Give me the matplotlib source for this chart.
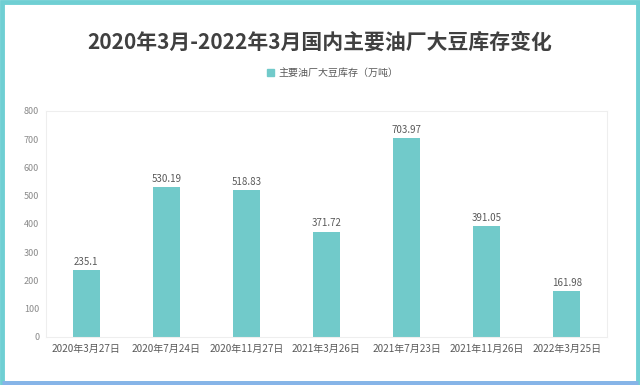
import matplotlib.pyplot as plt
from matplotlib.patches import Rectangle, Patch

plt.rcParams['font.family'] = ['Noto Sans CJK SC', 'DejaVu Sans']

dates = ['2020年3月27日', '2020年7月24日', '2020年11月27日', '2021年3月26日',
         '2021年7月23日', '2021年11月26日', '2022年3月25日']
stock = [235.1, 530.19, 518.83, 371.72, 703.97, 391.05, 161.98]
labels = ['235.1', '530.19', '518.83', '371.72', '703.97', '391.05', '161.98']
yticks = [0, 100, 200, 300, 400, 500, 600, 700, 800]

bar_color = '#71CACA'
text_grey = '#595959'

fig = plt.figure(figsize=(6.4, 3.85), dpi=100)

# outer frame
fig.patches.append(Rectangle((0.003, 0.005), 0.994, 0.99, transform=fig.transFigure,
                             fill=False, edgecolor='#6FCFD3', linewidth=3.5))
fig.patches.append(Rectangle((0.003, 0.005), 0.994, 0.0, transform=fig.transFigure,
                             fill=False, edgecolor='#86B4E8', linewidth=3.5))

ax = fig.add_axes([0.072, 0.125, 0.876, 0.587])
x = range(len(dates))
ax.bar(x, stock, width=0.34, color=bar_color, zorder=2)
for i, (v, s) in enumerate(zip(stock, labels)):
    ax.text(i, v + 12, s, ha='center', va='bottom', fontsize=7, color=text_grey)

ax.set_xlim(-0.5, len(dates) - 0.5)
ax.set_ylim(0, 800)
ax.set_yticks(yticks)
ax.set_yticklabels([str(t) for t in yticks], fontsize=6.5, color='#8a8a8a')
ax.set_xticks(list(x))
ax.set_xticklabels(dates, fontsize=7.2, color=text_grey)
ax.tick_params(length=0, pad=5)
for sp in ax.spines.values():
    sp.set_color('#eeeeee')
    sp.set_linewidth(0.8)

fig.text(0.5, 0.89, '2020年3月-2022年3月国内主要油厂大豆库存变化', ha='center', va='center',
         fontsize=15, fontweight='bold', color='#404040')
fig.legend(handles=[Patch(color=bar_color)], labels=['主要油厂大豆库存（万吨）'],
           loc='center', bbox_to_anchor=(0.52, 0.81), frameon=False, fontsize=7.2,
           handlelength=0.7, handleheight=0.7, handletextpad=0.4, labelcolor=text_grey)

fig.savefig('out.png', dpi=100, facecolor='white')
